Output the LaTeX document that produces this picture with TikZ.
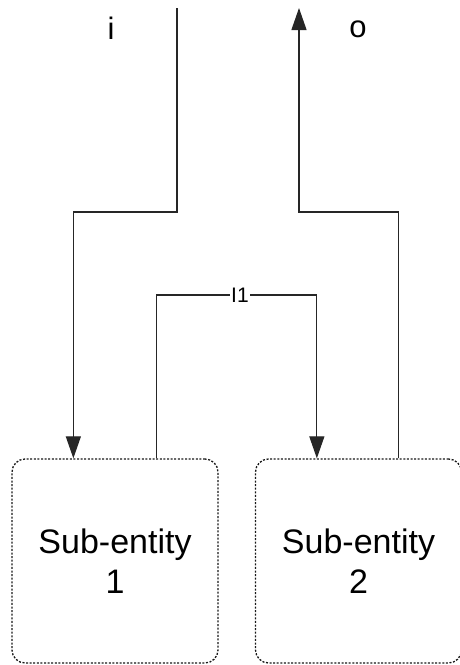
\documentclass[tikz,border=0pt]{standalone}
\usepackage{fontspec}
\setmainfont{Liberation Sans}
\usetikzlibrary{arrows.meta,calc}
\begin{document}
\begin{tikzpicture}[x=1pt,y=-1pt,
  entity/.style={draw=black!90, line width=1.3pt, dash pattern=on 2pt off 1.6pt,
    rounded corners=13pt, minimum width=206pt, minimum height=204pt,
    inner sep=0pt, align=center, font=\fontsize{34}{38}\selectfont},
  conn/.style={draw=black!85, line width=1.2pt},
  tip/.style={-{Triangle[length=22pt,width=15pt]}},
  portlabel/.style={font=\fontsize{31}{34}\selectfont, inner sep=0pt}]
\useasboundingbox (0,0) rectangle (459,665);
\node[entity] (b1) at (115,561) {Sub-entity\\[2pt]1};
\node[entity] (b2) at (358.5,561) {Sub-entity\\[2pt]2};
\coordinate (iin) at (177,8);
\coordinate (oout) at (299,8);
\node[portlabel] (li) at (111,28) {i};
\node[portlabel] (lo) at (358,29) {o};
% input i -> box 1
\draw[conn,tip] (iin) -- (177,212) -| ($(b1.north west)+(62,0)$);
% box1 -> box2 via I1
\draw[conn,tip] ($(b1.north west)+(145,0)$) |- (240,295) -| ($(b2.north west)+(62,0)$);
\node[fill=white, inner xsep=1pt, inner ysep=0pt, font=\fontsize{21}{24}\selectfont] (l1) at (240,295) {I1};
% box2 -> output o
\draw[conn,tip] ($(b2.north west)+(144,0)$) |- (299,212) -- (oout);
\end{tikzpicture}
\end{document}
